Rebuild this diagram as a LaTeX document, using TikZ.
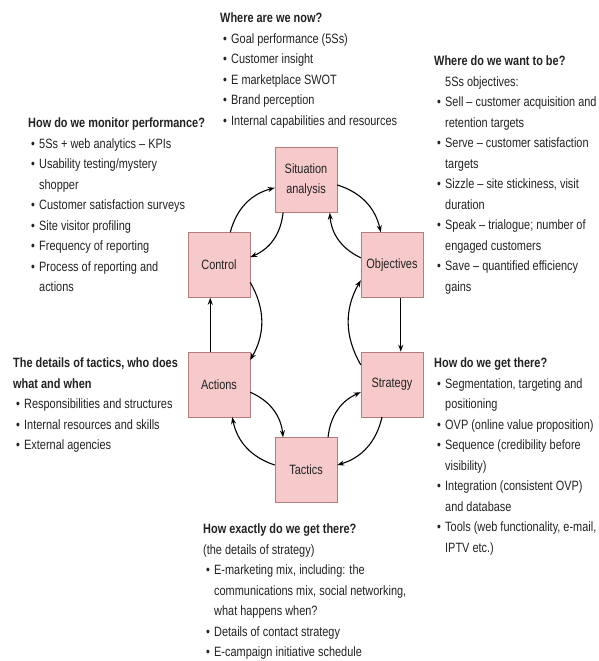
\documentclass[tikz,border=0pt]{standalone}
\usepackage{fontspec}
\setmainfont[FakeStretch=0.81]{Liberation Sans}
\usetikzlibrary{positioning, arrows.meta}

\definecolor{boxfill}{RGB}{246,201,202}
\definecolor{boxline}{RGB}{180,125,125}
\definecolor{txt}{RGB}{34,34,34}

\newcommand{\hd}[1]{\strut\textbf{#1}}
\newcommand{\bl}{\hspace*{3pt}\makebox[8pt][l]{\textbullet}}
\newcommand{\ind}{\hspace*{11pt}}

\tikzset{
  stage/.style={draw=boxline, fill=boxfill, minimum width=62pt, minimum height=65pt, inner sep=2pt, align=center, text=txt},
  notes/.style={anchor=north west, inner sep=0pt, align=left, text=txt},
  flow/.style={line width=1.1pt, -{Stealth[length=7pt,width=5pt]}}
}

\begin{document}
\begin{tikzpicture}[x=1pt, y=-1pt, node distance=54pt, font=\fontsize{13.5}{20.5}\selectfont]
    \useasboundingbox (0,0) rectangle (598,661);

    % Nodes
    \node[stage] (sit) at (306,180) {Situation\\analysis};
    \node[stage] (ctrl) at (219,265) {Control};
    \node[stage] (obj) at (392,265) {Objectives};
    \node[stage] (act) [below=of ctrl] {Actions};
    \node[stage] (strat) [below=of obj] {Strategy};
    \node[stage] (tac) at (306,470) {Tactics};

    % Arrows
    \draw[flow] (ctrl.71) to[bend left=30] (sit.194);
    \draw[flow] (sit.235) to[bend left=30] (ctrl.14);
    \draw[flow] (sit.351) to[bend left=30] (obj.109);
    \draw[flow] (obj.167) to[bend left=30] (sit.306);
    \draw[flow] (ctrl.331) to[bend left=30] (act.38);
    \draw[flow] (act.105) -- (ctrl.255);
    \draw[flow] (obj.285) -- (strat.75);
    \draw[flow] (strat.148) to[bend left=30] (obj.206);
    \draw[flow] (act.346) to[bend left=30] (tac.125);
    \draw[flow] (tac.171) to[bend left=30] (act.292);
    \draw[flow] (tac.56) to[bend left=30] (strat.194);
    \draw[flow] (strat.253) to[bend left=30] (tac.9);

    % Notes round the loop
    \node[notes] (now) at (220,8) {\hd{Where are we now?}\\
        \bl Goal performance (5Ss)\\
        \bl Customer insight\\
        \bl E marketplace SWOT\\
        \bl Brand perception\\
        \bl Internal capabilities and resources};

    \node[notes] (monitor) at (28,113) {\hd{How do we monitor performance?}\\
        \bl 5Ss + web analytics -- KPIs\\
        \bl Usability testing/mystery\\
        \ind shopper\\
        \bl Customer satisfaction surveys\\
        \bl Site visitor profiling\\
        \bl Frequency of reporting\\
        \bl Process of reporting and\\
        \ind actions};

    \node[notes] (want) at (434,51) {\hd{Where do we want to be?}\\
        \ind 5Ss objectives:\\
        \bl Sell -- customer acquisition and\\
        \ind retention targets\\
        \bl Serve -- customer satisfaction\\
        \ind targets\\
        \bl Sizzle -- site stickiness, visit\\
        \ind duration\\
        \bl Speak -- trialogue; number of\\
        \ind engaged customers\\
        \bl Save -- quantified efficiency\\
        \ind gains};

    \node[notes] (details) at (13,353) {\hd{The details of tactics, who does}\\
        \textbf{what and when}\\
        \bl Responsibilities and structures\\
        \bl Internal resources and skills\\
        \bl External agencies};

    \node[notes] (get) at (434,353) {\hd{How do we get there?}\\
        \bl Segmentation, targeting and\\
        \ind positioning\\
        \bl OVP (online value proposition)\\
        \bl Sequence (credibility before\\
        \ind visibility)\\
        \bl Integration (consistent OVP)\\
        \ind and database\\
        \bl Tools (web functionality, e-mail,\\
        \ind IPTV etc.)};

    \node[notes] (exactly) at (203,519) {\hd{How exactly do we get there?}\\
        (the details of strategy)\\
        \bl E-marketing mix, including: the\\
        \ind communications mix, social networking,\\
        \ind what happens when?\\
        \bl Details of contact strategy\\
        \bl E-campaign initiative schedule};
\end{tikzpicture}
\end{document}
